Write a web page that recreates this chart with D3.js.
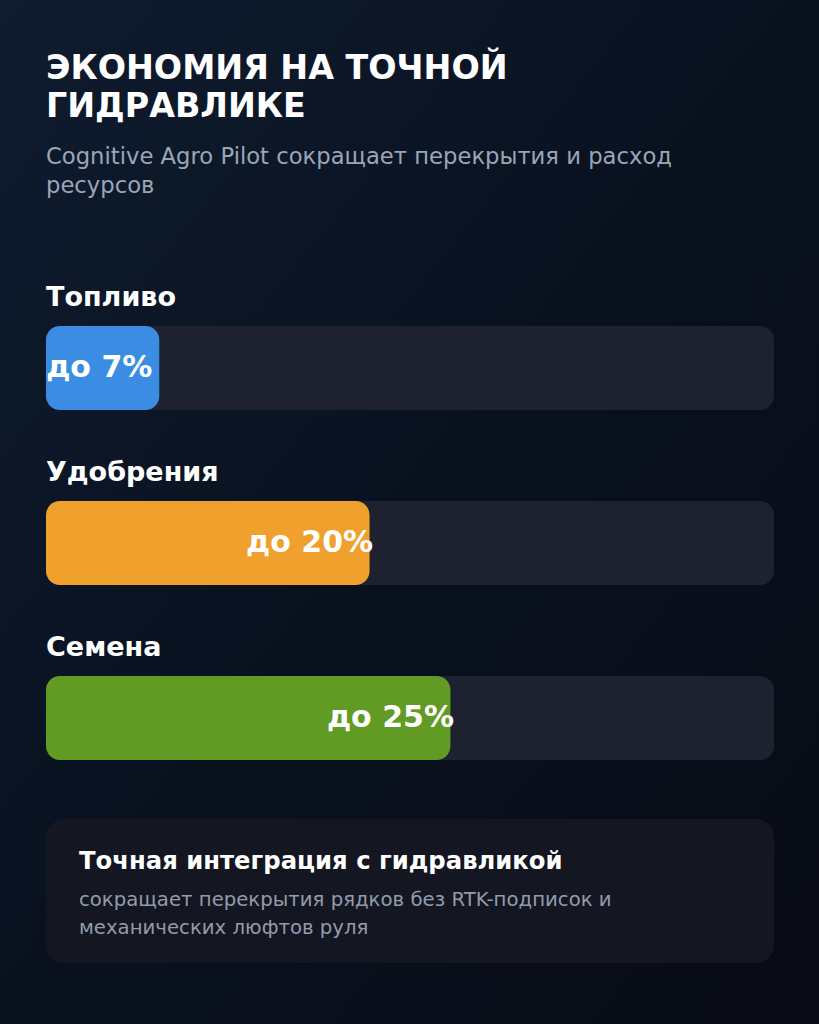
<!DOCTYPE html>
<html><head><meta charset="utf-8">
<script src="https://cdn.jsdelivr.net/npm/d3@7"></script>
<style>html,body{margin:0;padding:0;background:#0a111e;}svg{display:block;}</style>
</head><body>
<script>
const titleLines = ["ЭКОНОМИЯ НА ТОЧНОЙ", "ГИДРАВЛИКЕ"];
const subtitleLines = ["Cognitive Agro Pilot сокращает перекрытия и расход", "ресурсов"];
const categories = ["Топливо", "Удобрения", "Семена"];
const values = [7, 20, 25];
const valueLabels = ["до 7%", "до 20%", "до 25%"];
const colors = ["#3b8de3", "#f0a02c", "#629b24"];
const noteTitle = "Точная интеграция с гидравликой";
const noteLines = ["сокращает перекрытия рядков без RTK-подписок и", "механических люфтов руля"];

const W = 819, H = 1024;
const svg = d3.select("body").append("svg").attr("width", W).attr("height", H);
const defs = svg.append("defs");
const g = defs.append("linearGradient").attr("id","bg").attr("x1","0").attr("y1","0").attr("x2","1").attr("y2","1");
g.append("stop").attr("offset","0").attr("stop-color","#0f1c2f");
g.append("stop").attr("offset","0.5").attr("stop-color","#09111f");
g.append("stop").attr("offset","1").attr("stop-color","#080b15");
svg.append("rect").attr("width",W).attr("height",H).attr("fill","url(#bg)");

const font = "'DejaVu Sans', sans-serif";
svg.append("g").selectAll("text").data(titleLines).join("text")
  .attr("x",46).attr("y",(d,i)=>79+i*38).attr("fill","#ffffff")
  .attr("font-family",font).attr("font-weight","bold").attr("font-size",33.3)
  .text(d=>d);
svg.append("g").selectAll("text").data(subtitleLines).join("text")
  .attr("x",46).attr("y",(d,i)=>163.5+i*29.5).attr("fill","#9aa6b8")
  .attr("font-family",font).attr("font-size",22.7)
  .text(d=>d);

const x = d3.scaleLinear().domain([0,45]).range([46,774]);
const y = d3.scaleBand().domain(categories).range([280,805]).paddingInner(0).paddingOuter(0);
const barH = 84;

const rows = svg.append("g").selectAll("g").data(categories).join("g")
  .attr("transform",d=>`translate(0,${y(d)})`);
rows.append("text").attr("x",46).attr("y",26).attr("fill","#ffffff")
  .attr("font-family",font).attr("font-weight","bold").attr("font-size",27)
  .text(d=>d);
rows.append("rect").attr("x",x(0)).attr("y",46).attr("width",x(45)-x(0)).attr("height",barH)
  .attr("rx",14).attr("fill","#1e212f");
rows.append("rect").attr("x",x(0)).attr("y",46).attr("width",(d,i)=>x(values[i])-x(0)).attr("height",barH)
  .attr("rx",14).attr("fill",(d,i)=>colors[i]);
rows.append("text").attr("x",(d,i)=>x(values[i])-60).attr("y",46+barH/2).attr("dy","0.3em").attr("text-anchor","middle")
  .attr("fill","#ffffff").attr("font-family",font).attr("font-weight","bold").attr("font-size",30)
  .text((d,i)=>valueLabels[i]);

const card = svg.append("g");
card.append("rect").attr("x",46).attr("y",819).attr("width",728).attr("height",144).attr("rx",18).attr("fill","#141621");
card.append("text").attr("x",79).attr("y",869).attr("fill","#ffffff").attr("font-family",font)
  .attr("font-weight","bold").attr("font-size",24.3).text(noteTitle);
card.append("g").selectAll("text").data(noteLines).join("text")
  .attr("x",79).attr("y",(d,i)=>906+i*28).attr("fill","#939cab").attr("font-family",font).attr("font-size",19.7)
  .text(d=>d);
</script>
</body></html>
